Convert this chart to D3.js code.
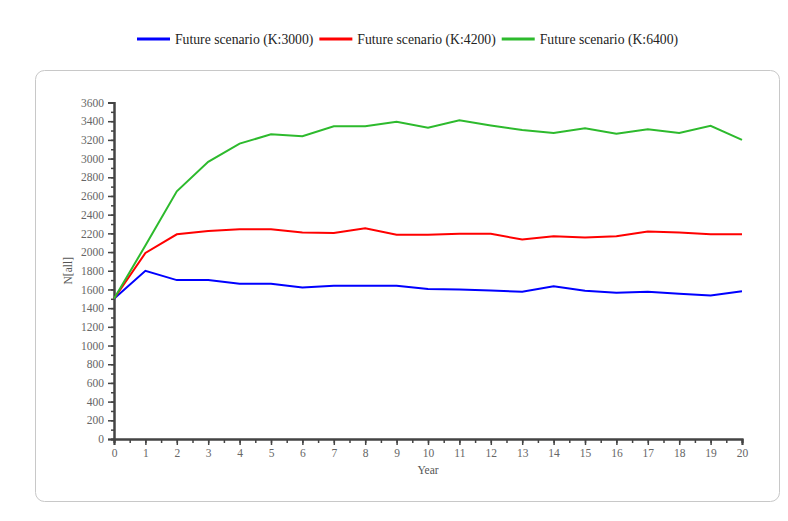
<!DOCTYPE html>
<html>
<head>
<meta charset="utf-8">
<script src="https://cdn.jsdelivr.net/npm/d3@7"></script>
<style>
  body { margin: 0; background: #fff; }
  svg { display: block; font-family: "Liberation Serif", "Times New Roman", serif; }
</style>
</head>
<body>
<svg id="chart" width="788" height="521"></svg>
<script>
const years = d3.range(0, 21)
const seriesNames = ['Future scenario (K:3000)', 'Future scenario (K:4200)', 'Future scenario (K:6400)']
const seriesColors = ['#0000ff', '#ff0000', '#2dba2d']
const k3000 = [1500, 1800, 1700, 1700, 1660, 1660, 1620, 1640, 1640, 1640, 1605, 1600, 1590, 1575, 1635, 1585, 1565, 1575, 1555, 1535, 1580]
const k4200 = [1500, 1990, 2190, 2225, 2245, 2245, 2210, 2205, 2255, 2185, 2185, 2195, 2195, 2135, 2170, 2155, 2170, 2220, 2210, 2190, 2190]
const k6400 = [1500, 2070, 2650, 2965, 3160, 3260, 3240, 3345, 3345, 3395, 3330, 3410, 3355, 3305, 3275, 3325, 3265, 3315, 3275, 3350, 3200]
const yMajor = d3.range(0, 3601, 200)
const yMinor = d3.range(0, 3601, 100)
const xMinor = d3.range(0, 20.01, 0.5)

const svg = d3.select('#chart')
const margin = { left: 114, top: 102.5, right: 46, bottom: 82 }
const width = 788 - margin.left - margin.right
const height = 521 - margin.top - margin.bottom

// panel frame
svg.append('rect')
  .attr('x', 35.5).attr('y', 70.5)
  .attr('width', 744).attr('height', 431)
  .attr('rx', 9).attr('ry', 9)
  .attr('fill', 'none')
  .attr('stroke', '#c8c8c8')
  .attr('stroke-width', 1)

const g = svg.append('g').attr('transform', `translate(${margin.left}, ${margin.top})`)

const x = d3.scaleLinear().domain([0, 20]).range([0, width])
const y = d3.scaleLinear().domain([0, 3600]).range([height, 0])

// minor ticks
g.append('g')
  .attr('class', 'minor')
  .call(d3.axisLeft(y).tickValues(yMinor).tickSize(3).tickFormat(''))
g.append('g')
  .attr('class', 'minor')
  .attr('transform', `translate(0, ${height})`)
  .call(d3.axisBottom(x).tickValues(xMinor).tickSize(4).tickFormat(''))

g.append('g')
  .call(d3.axisLeft(y).tickValues(yMajor).tickSize(6).tickPadding(4).tickFormat(d3.format('d')))
g.append('g')
  .attr('transform', `translate(0, ${height})`)
  .call(d3.axisBottom(x).tickValues(years).tickSize(6).tickPadding(4).tickFormat(d3.format('d')))

g.selectAll('.domain').attr('stroke', '#444').attr('stroke-width', 2)
g.selectAll('.tick line').attr('stroke', '#444').attr('stroke-width', 1.5)
g.selectAll('.tick text').attr('fill', '#666').style('font-size', '11.5px').style('font-family', '"Liberation Serif", serif')

g.append('text')
  .attr('x', width / 2).attr('y', height + 35)
  .attr('text-anchor', 'middle')
  .attr('fill', '#555')
  .style('font-size', '11.5px')
  .text('Year')

g.append('text')
  .attr('transform', `translate(${-42}, ${height / 2}) rotate(-90)`)
  .attr('text-anchor', 'middle')
  .attr('fill', '#555')
  .style('font-size', '11.5px')
  .text('N[all]')

const line = d3.line().x((d, i) => x(years[i])).y(d => y(d))
const data = [k3000, k4200, k6400]
g.selectAll('.series')
  .data(data)
  .enter()
  .append('path')
  .attr('class', 'series')
  .attr('fill', 'none')
  .attr('stroke', (d, i) => seriesColors[i])
  .attr('stroke-width', 2)
  .attr('d', line)

// legend
const legend = svg.append('g').attr('transform', 'translate(137, 39)')
let offset = 0
seriesNames.forEach((name, i) => {
  const item = legend.append('g').attr('transform', `translate(${offset}, 0)`)
  item.append('line')
    .attr('x1', 0).attr('x2', 33).attr('y1', 0).attr('y2', 0)
    .attr('stroke', seriesColors[i]).attr('stroke-width', 3)
  const t = item.append('text')
    .attr('x', 38).attr('y', 4.5)
    .attr('fill', '#222')
    .style('font-family', '"Liberation Serif", serif')
    .style('font-size', '13.7px')
    .text(name)
  offset += 38 + t.node().getComputedTextLength() + 6
})
</script>
</body>
</html>
